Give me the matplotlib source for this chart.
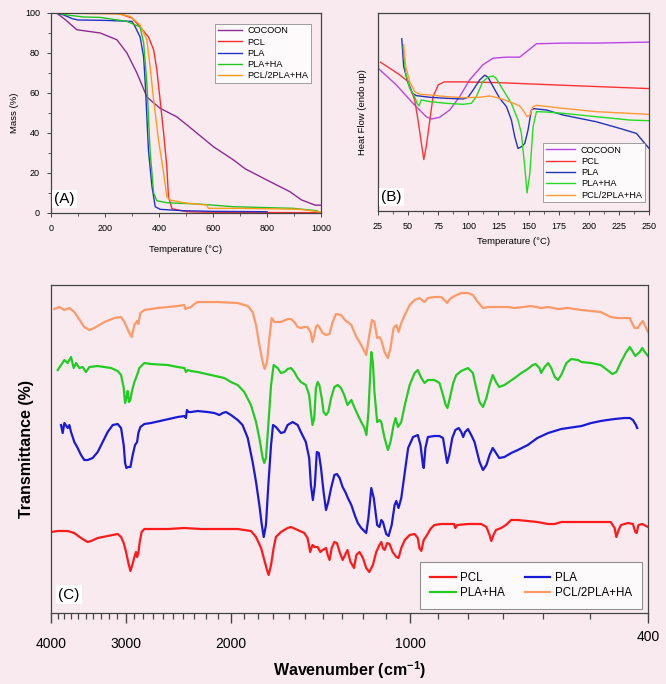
import matplotlib
matplotlib.use("Agg")
import matplotlib.pyplot as plt
import matplotlib.transforms as mtransforms
from matplotlib.ticker import FixedLocator, MultipleLocator, NullFormatter, NullLocator

plt.rcParams["font.family"] = ["Liberation Sans", "DejaVu Sans"]
plt.rcParams["mathtext.fontset"] = "custom"
plt.rcParams["mathtext.bf"] = "Liberation Sans:bold"
plt.rcParams["mathtext.rm"] = "Liberation Sans"

BG = "#F9EAF0"
SPINE = "#444444"

# ---------------- (A) TGA ----------------
tga_cocoon_t = [20, 50, 96, 182, 244, 281, 318, 355, 374, 404, 466, 503, 602, 676, 719, 799, 885, 928, 978, 1000]
tga_cocoon_m = [100, 97, 91.6, 90, 86.6, 80, 70, 58, 55.7, 52.3, 48, 44, 33, 26.4, 22, 16.4, 10.5, 6.4, 3.8, 3.8]
tga_pcl_t = [20, 250, 300, 330, 361, 380, 392, 404, 417, 429, 435, 448, 503, 600, 800, 1000]
tga_pcl_m = [100, 99.8, 97.5, 93, 88, 81.6, 71.6, 56.5, 40, 23, 8, 2, 0.5, 0.2, 0.1, 0]
tga_pla_t = [20, 47, 78, 100, 200, 300, 312, 330, 343, 349, 355, 361, 374, 386, 404, 491, 600, 800]
tga_pla_m = [100, 99, 97.2, 96.5, 96.3, 95.8, 93, 88, 78, 65, 48, 31, 13, 3, 1.7, 1, 0.7, 0.5]
tga_plaha_t = [20, 59, 121, 182, 281, 330, 343, 355, 367, 380, 392, 429, 552, 676, 898, 984, 1000]
tga_plaha_m = [100, 99, 98, 97.8, 95.8, 93, 85, 65, 31, 10, 6, 5, 4.3, 3, 2.2, 1, 0]
tga_blend_t = [20, 250, 293, 330, 355, 367, 380, 398, 417, 429, 441, 491, 577, 583, 700, 922, 1000]
tga_blend_m = [100, 99.5, 98.3, 94, 86.6, 73, 56.5, 36.5, 20, 8, 6.4, 5, 3.8, 2.2, 2.2, 1.7, 0.3]

# ---------------- (B) DSC (arbitrary units) ----------------
dsc_cocoon_t = [25, 40.2, 54, 65, 69.3, 76, 84.5, 92.8, 101, 112, 120.5, 131.5, 142.6, 145, 151, 156.5, 178.6, 206, 250]
dsc_cocoon_h = [42.7, 37.7, 32.2, 28.2, 27.5, 28, 30.2, 34.2, 39.2, 43.7, 45.7, 46, 46, 46.7, 48.4, 50, 50.2, 50.2, 50.5]
dsc_pcl_t = [27, 34.7, 43, 50, 55.4, 58.2, 61, 63, 65, 68, 70.7, 75, 80, 95, 123, 151, 178.6, 250]
dsc_pcl_h = [44.5, 42.7, 40.7, 38.7, 33.2, 27.2, 20.2, 15.4, 19.2, 27.2, 34.2, 37.7, 38.6, 38.6, 38.4, 38, 37.6, 36.6]
dsc_pla_t = [44.7, 46.3, 50, 53.5, 56.8, 68, 81.7, 95.6, 99.7, 104, 109.4, 113.6, 116.3, 120.5, 126, 131.6,
             135.7, 138.5, 141.2, 144, 146.8, 149.5, 152.3, 154.3, 164.8, 178.6, 206, 225.7, 239.5, 250]
dsc_pla_h = [51.5, 43.2, 38.2, 35.2, 34.5, 34, 33.7, 33.5, 34, 36.2, 39.2, 40.6, 40, 37.2, 33.7, 31.2,
             27.2, 22.2, 18.7, 19.2, 20.2, 24.2, 30.2, 30.6, 30.2, 28.7, 26.7, 24.7, 23.2, 18.7]
dsc_plaha_t = [45.8, 48, 51.3, 55.4, 57.4, 59, 61, 68, 81.7, 95.6, 102.5, 106.6, 112, 116.3, 120.5, 123, 128.8,
               135.7, 141.2, 144, 146.8, 148.7, 151, 153.7, 156.5, 164.8, 178.6, 206, 234, 250]
dsc_plaha_h = [49.2, 41.2, 36.7, 34.2, 32.2, 31.4, 33.2, 32.7, 32.2, 31.9, 32.2, 34.2, 38.7, 40, 40.4, 39.7, 36.2,
               32.2, 27.2, 23.2, 13.2, 5.4, 11.2, 25.2, 29.7, 29.6, 29.2, 28.2, 27.2, 27]
dsc_blend_t = [46.3, 48, 51.3, 55.4, 59.6, 68, 81.7, 95.6, 109.4, 117.7, 126, 134.3, 142.6, 146.2, 148.7, 151,
               153.7, 156.5, 178.6, 206, 250]
dsc_blend_h = [49.7, 43.2, 38.7, 35.7, 34.9, 34.7, 34.2, 33.9, 34, 34.4, 33.7, 32.7, 31.4, 29.7, 28.2, 28.7,
               31.2, 31.6, 30.7, 29.7, 28.9]

# ---------------- (C) FTIR (offset transmittance, arbitrary units) ----------------
ir_blend_w = [3949, 3873, 3799, 3727, 3656, 3609, 3518, 3450, 3385, 3256, 3133, 3053, 3014, 2957, 2930, 2900,
              2870, 2856, 2834, 2791, 2651, 2454, 2392, 2383, 2361, 2331, 2301, 2272, 2103, 1947, 1873, 1838,
              1814, 1791, 1768, 1755, 1739, 1723, 1708, 1690, 1648, 1606, 1585, 1565, 1545, 1526, 1506, 1487,
              1468, 1459, 1449, 1440, 1430, 1421, 1403, 1385, 1367, 1350, 1333, 1307, 1283, 1273, 1256, 1232,
              1209, 1186, 1172, 1160, 1149, 1137, 1127, 1119, 1105, 1091, 1080, 1067, 1056, 1047, 1036, 1022,
              1003, 984, 966, 947, 935, 912, 888, 877, 868, 859, 844, 822, 801, 786, 771, 756, 741, 714, 688,
              669, 628, 604, 588, 566, 545, 517, 498, 480, 462, 450, 438, 429, 427, 421, 416, 411, 408, 405, 400]
ir_blend_t = [304, 306, 303, 305, 301, 296, 286, 283, 285, 291, 295, 296, 291, 280, 276, 288,
              292, 289, 300, 303, 305, 307, 308, 304, 305, 306, 309, 311, 311, 310, 307, 301,
              288, 268, 251, 244, 251, 275, 295, 291, 291, 294, 294, 291, 286, 285, 286, 286,
              280, 271, 278, 286, 288, 286, 280, 278, 279, 291, 299, 298, 292, 291, 288, 276,
              268, 258, 278, 293, 291, 275, 276, 273, 261, 255, 265, 285, 288, 281, 290, 298,
              308, 313, 315, 311, 315, 316, 316, 313, 310, 314, 317, 320, 320, 318, 311, 305, 306, 306, 306,
              305, 307, 305, 306, 304, 305, 303, 302, 301, 296, 295, 295, 295, 292, 285, 285, 290, 292, 288, 281]

ir_plaha_w = [3898, 3848, 3799, 3751, 3703, 3665, 3632, 3586, 3540, 3495, 3450, 3341, 3173, 3093, 3053, 3022,
              3006, 2991, 2976, 2961, 2945, 2930, 2900, 2870, 2845, 2791, 2720, 2551, 2454, 2392, 2377, 2361,
              2331, 2272, 2158, 2050, 1998, 1947, 1898, 1850, 1814, 1791, 1768, 1757, 1746, 1730, 1712, 1695,
              1669, 1648, 1626, 1606, 1585, 1565, 1545, 1526, 1497, 1478, 1468, 1459, 1449, 1440, 1430, 1421,
              1408, 1398, 1385, 1373, 1358, 1341, 1324, 1307, 1291, 1275, 1256, 1240, 1225, 1209, 1194, 1185,
              1176, 1163, 1156, 1149, 1137, 1127, 1119, 1105, 1091, 1080, 1067, 1059, 1049, 1036, 1022, 1003,
              984, 972, 959, 947, 935, 912, 894, 882, 873, 867, 859, 848, 838, 822, 801, 786, 776, 766, 756,
              746, 737, 728, 719, 710, 696, 669, 652, 636, 624, 617, 608, 604, 596, 588, 581, 573, 566, 559,
              548, 538, 524, 517, 498, 480, 468, 459, 452, 444, 435, 429, 424, 420, 413, 409, 405, 400]
ir_plaha_t = [243, 248, 253, 250, 256, 245, 250, 245, 246, 241, 246, 247, 245, 242, 238, 225,
              210, 215, 222, 211, 213, 221, 231, 238, 245, 250, 249, 248, 246, 245, 241, 243,
              242, 241, 238, 235, 231, 228, 221, 208, 191, 175, 155, 150, 155, 188, 228, 248,
              245, 240, 241, 244, 245, 241, 235, 231, 228, 218, 201, 188, 195, 225, 231, 228,
              215, 201, 198, 201, 215, 226, 228, 225, 218, 208, 213, 205, 198, 191, 185, 178,
              201, 261, 251, 221, 191, 193, 191, 175, 163, 171, 188, 195, 186, 191, 208, 228,
              240, 243, 235, 230, 233, 233, 230, 218, 208, 205, 215, 230, 238, 242, 245, 240, 225, 211, 206,
              215, 228, 238, 231, 226, 228, 235, 240, 244, 248, 249, 245, 240, 246, 250, 245, 236, 233, 238,
              250, 254, 253, 251, 250, 248, 243, 239, 241, 251, 261, 266, 261, 257, 261, 265, 261, 257]

ir_pla_w = [3848, 3824, 3799, 3751, 3727, 3703, 3679, 3656, 3632, 3609, 3563, 3518, 3473, 3407, 3341, 3277,
            3215, 3153, 3093, 3053, 3022, 3006, 2991, 2968, 2945, 2919, 2893, 2870, 2856, 2834, 2791, 2720,
            2584, 2454, 2392, 2377, 2368, 2355, 2331, 2272, 2186, 2131, 2090, 2063, 2037, 1998, 1947, 1911,
            1873, 1838, 1814, 1791, 1774, 1761, 1746, 1730, 1712, 1699, 1680, 1648, 1626, 1606, 1575, 1545,
            1526, 1497, 1478, 1468, 1457, 1446, 1435, 1424, 1412, 1398, 1385, 1373, 1358, 1341, 1328, 1314,
            1299, 1283, 1273, 1256, 1240, 1225, 1209, 1186, 1176, 1163, 1152, 1137, 1127, 1119, 1112, 1098,
            1088, 1075, 1063, 1056, 1047, 1036, 1022, 1009, 990, 972, 962, 953, 950, 944, 935, 912, 894, 882,
            874, 868, 861, 851, 841, 830, 822, 816, 810, 801, 791, 781, 766, 756, 746, 737, 728, 719, 710,
            696, 678, 661, 636, 613, 588, 559, 531, 517, 498, 480, 468, 455, 438, 429, 424, 419, 417]
ir_pla_t = [188, 180, 190, 185, 188, 181, 176, 171, 168, 165, 158, 153, 153, 155, 161, 171,
            181, 188, 189, 185, 168, 150, 145, 146, 146, 158, 168, 171, 180, 186, 189, 190,
            193, 196, 197, 195, 203, 201, 201, 202, 201, 200, 198, 200, 201, 198, 193, 188,
            175, 151, 131, 108, 88, 76, 88, 128, 168, 188, 186, 180, 181, 188, 191, 188,
            181, 171, 155, 128, 113, 128, 161, 160, 145, 121, 103, 111, 125, 138, 139, 135,
            126, 120, 115, 108, 98, 90, 85, 80, 95, 125, 115, 88, 86, 93, 91, 79,
            77, 88, 108, 112, 105, 115, 141, 165, 176, 178, 168, 148, 145, 165, 176, 177, 177, 175,
            161, 150, 158, 175, 183, 185, 181, 176, 181, 184, 178, 171, 151, 143, 148, 158, 165, 160, 155,
            156, 160, 163, 168, 175, 180, 184, 186, 187, 190, 192, 193, 194, 195, 195, 193, 188, 185]

ir_pcl_w = [4000, 3898, 3751, 3656, 3563, 3473, 3428, 3341, 3215, 3093, 3053, 3022, 2995, 2968, 2945, 2923,
            2900, 2882, 2870, 2856, 2841, 2820, 2791, 2551, 2392, 2243, 2103, 1947, 1850, 1814, 1779, 1757,
            1739, 1728, 1712, 1695, 1680, 1648, 1606, 1585, 1545, 1506, 1487, 1472, 1459, 1446, 1430, 1416,
            1403, 1385, 1376, 1366, 1355, 1341, 1328, 1314, 1299, 1287, 1275, 1260, 1243, 1232, 1217, 1201,
            1186, 1172, 1156, 1141, 1127, 1119, 1112, 1105, 1094, 1084, 1071, 1056, 1047, 1036, 1022, 1003,
            984, 972, 966, 959, 950, 938, 926, 912, 888, 865, 845, 841, 835, 801, 761, 746, 737, 732, 726,
            719, 705, 692, 678, 661, 636, 613, 588, 573, 559, 531, 504, 480, 462, 455, 452, 448, 444, 432,
            424, 420, 418, 415, 409, 400]
ir_pcl_t = [81, 82, 82, 80, 75, 71, 72, 75, 77, 79, 76, 70, 61, 50, 42, 48,
            56, 61, 56, 60, 71, 81, 84, 84, 85, 84, 84, 84, 82, 76, 65, 53,
            43, 38, 48, 65, 76, 81, 85, 86, 83, 80, 75, 61, 68, 66, 66, 61,
            63, 65, 58, 53, 65, 71, 70, 61, 53, 58, 63, 51, 45, 58, 61, 55,
            45, 41, 48, 61, 68, 71, 65, 63, 70, 69, 61, 56, 55, 65, 73, 78,
            79, 75, 65, 62, 73, 78, 84, 88, 89, 89, 89, 85, 88, 89, 89, 86, 78, 72, 78,
            83, 85, 88, 93, 93, 92, 91, 89, 89, 91, 91, 91, 91, 91, 85, 76, 83, 88, 90,
            89, 81, 80, 88, 89, 86]

fig = plt.figure(figsize=(6.66, 6.84), dpi=100, facecolor=BG)


def frame(ax):
    ax.set_facecolor(BG)
    for s in ax.spines.values():
        s.set_color(SPINE)
        s.set_linewidth(0.9)


def tag(ax, text, size):
    ax.text(0.012, 0.035, text, transform=ax.transAxes, fontsize=size, ha="left", va="bottom",
            bbox=dict(facecolor="white", edgecolor="none", pad=1.5))


# (A)
ax1 = fig.add_axes([0.0766, 0.689, 0.4054, 0.292])
frame(ax1)
ax1.plot(tga_cocoon_t, tga_cocoon_m, color="#8E2A96", lw=1.0, label="COCOON")
ax1.plot(tga_pcl_t, tga_pcl_m, color="#FF2A2A", lw=1.0, label="PCL")
ax1.plot(tga_pla_t, tga_pla_m, color="#2233CC", lw=1.0, label="PLA")
ax1.plot(tga_plaha_t, tga_plaha_m, color="#22C422", lw=1.0, label="PLA+HA")
ax1.plot(tga_blend_t, tga_blend_m, color="#FF9A1A", lw=1.0, label="PCL/2PLA+HA")
ax1.set_xlim(0, 1000)
ax1.set_ylim(0, 100)
ax1.xaxis.set_major_locator(MultipleLocator(200))
ax1.xaxis.set_minor_locator(MultipleLocator(100))
ax1.yaxis.set_major_locator(MultipleLocator(20))
ax1.yaxis.set_minor_locator(MultipleLocator(10))
ax1.tick_params(labelsize=6.5, length=3, width=0.7, color=SPINE, pad=5)
ax1.tick_params(which="minor", length=2, width=0.6, color=SPINE)
ax1.set_xlabel("Temperature (°C)", fontsize=6.8, labelpad=9)
ax1.set_ylabel("Mass (%)", fontsize=6.8, labelpad=4)
leg = ax1.legend(loc="upper right", fontsize=6.6, frameon=True, fancybox=False, handlelength=2.6,
                 handletextpad=0.6, borderpad=0.3, labelspacing=0.25, bbox_to_anchor=(0.98, 0.97))
leg.get_frame().set_edgecolor("#777777")
leg.get_frame().set_linewidth(0.6)
tag(ax1, "(A)", 11)

# (B)
ax2 = fig.add_axes([0.5676, 0.6915, 0.407, 0.2895])
frame(ax2)
ax2.plot(dsc_cocoon_t, dsc_cocoon_h, color="#B845E6", lw=1.0, label="COCOON")
ax2.plot(dsc_pcl_t, dsc_pcl_h, color="#FF3333", lw=1.0, label="PCL")
ax2.plot(dsc_pla_t, dsc_pla_h, color="#2233BB", lw=1.0, label="PLA")
ax2.plot(dsc_plaha_t, dsc_plaha_h, color="#22DD22", lw=1.0, label="PLA+HA")
ax2.plot(dsc_blend_t, dsc_blend_h, color="#FF9A33", lw=1.0, label="PCL/2PLA+HA")
ax2.set_xlim(25, 250)
ax2.set_ylim(0, 59.2)
ax2.xaxis.set_major_locator(MultipleLocator(25))
ax2.xaxis.set_minor_locator(MultipleLocator(12.5))
ax2.yaxis.set_major_locator(NullLocator())
ax2.tick_params(labelsize=6.5, length=3, width=0.7, color=SPINE, pad=5)
ax2.tick_params(which="minor", length=2, width=0.6, color=SPINE)
ax2.set_xlabel("Temperature (°C)", fontsize=6.8, labelpad=4)
ax2.set_ylabel("Heat Flow (endo up)", fontsize=6.8, labelpad=8)
leg = ax2.legend(loc="lower right", fontsize=6.6, frameon=True, fancybox=False, handlelength=3.2,
                 handletextpad=0.6, borderpad=0.3, labelspacing=0.25, bbox_to_anchor=(1.0, 0.02))
leg.get_frame().set_edgecolor("#777777")
leg.get_frame().set_linewidth(0.6)
tag(ax2, "(B)", 11)

# (C)
ax3 = fig.add_axes([0.0766, 0.1038, 0.8964, 0.4795])
frame(ax3)
l_pcl, = ax3.plot(ir_pcl_w, ir_pcl_t, color="#FF1A1A", lw=1.6, label="PCL")
l_pla, = ax3.plot(ir_pla_w, ir_pla_t, color="#1A1AD6", lw=1.6, label="PLA")
l_plaha, = ax3.plot(ir_plaha_w, ir_plaha_t, color="#22CC22", lw=1.6, label="PLA+HA")
l_blend, = ax3.plot(ir_blend_w, ir_blend_t, color="#FF9966", lw=1.6, label="PCL/2PLA+HA")
ax3.set_xscale("log")
ax3.set_xlim(4000, 400)
ax3.set_ylim(0, 328)
ax3.xaxis.set_major_locator(FixedLocator([4000, 3000, 2000, 1000, 400]))
tick_lbls = ax3.set_xticklabels(["4000", "3000", "2000", "1000", "400"])
ax3.xaxis.set_minor_locator(FixedLocator([w for w in range(500, 4000, 100) if w % 1000 != 0]))
ax3.xaxis.set_minor_formatter(NullFormatter())
ax3.yaxis.set_major_locator(NullLocator())
ax3.yaxis.set_minor_locator(NullLocator())
ax3.tick_params(axis="x", labelsize=10, length=7, width=1.0, color=SPINE, pad=10)
ax3.tick_params(axis="x", which="minor", length=4, width=0.9, color=SPINE)
# the "400" label sits a little higher in the original figure
tick_lbls[-1].set_transform(tick_lbls[-1].get_transform()
                            + mtransforms.ScaledTranslation(0, 5 / 72, fig.dpi_scale_trans))
ax3.set_xlabel("Wavenumber (cm$^{\\mathbf{-1}}$)", fontsize=11.5, fontweight="bold", labelpad=6)
ax3.set_ylabel("Transmittance (%)", fontsize=11.5, fontweight="bold", labelpad=12)
leg = ax3.legend([l_pcl, l_plaha, l_pla, l_blend], ["PCL", "PLA+HA", "PLA", "PCL/2PLA+HA"],
                 loc="lower right", ncol=2, fontsize=8.3, frameon=True, fancybox=False,
                 handlelength=2.2, handletextpad=0.4, columnspacing=1.7, borderpad=0.9,
                 labelspacing=0.2, borderaxespad=0, bbox_to_anchor=(0.99, 0.012))
leg.get_frame().set_edgecolor("#777777")
leg.get_frame().set_linewidth(0.8)
tag(ax3, "(C)", 11)

plt.savefig("out.png", dpi=100, facecolor=BG)
